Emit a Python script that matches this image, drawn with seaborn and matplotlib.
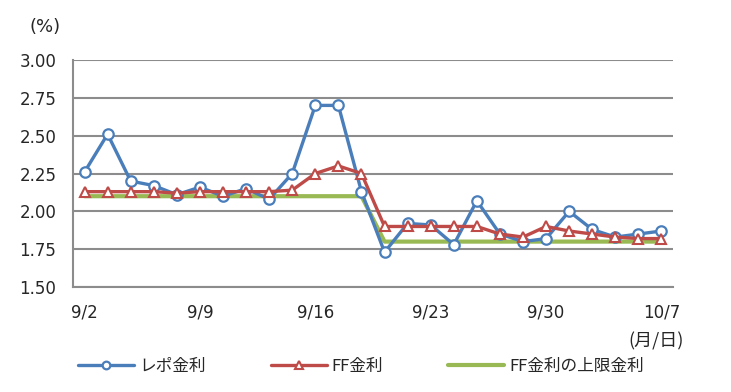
import numpy as np
import pandas as pd
import matplotlib.pyplot as plt
import seaborn as sns

# business days 9/2 .. 10/7
dates = ["9/2", "9/3", "9/4", "9/5", "9/6",
         "9/9", "9/10", "9/11", "9/12", "9/13",
         "9/16", "9/17", "9/18", "9/19", "9/20",
         "9/23", "9/24", "9/25", "9/26", "9/27",
         "9/30", "10/1", "10/2", "10/3", "10/4",
         "10/7"]
repo = [2.26, 2.51, 2.20, 2.17, 2.11,
        2.16, 2.10, 2.15, 2.08, 2.25,
        2.70, 2.70, 2.13, 1.73, 1.92,
        1.91, 1.78, 2.07, 1.85, 1.80,
        1.82, 2.00, 1.88, 1.83, 1.85,
        1.87]
ff = [2.13, 2.13, 2.13, 2.13, 2.12,
      2.13, 2.13, 2.13, 2.13, 2.14,
      2.25, 2.30, 2.25, 1.90, 1.90,
      1.90, 1.90, 1.90, 1.85, 1.83,
      1.90, 1.87, 1.85, 1.83, 1.82,
      1.82]
ff_upper = [2.10] * 13 + [1.80] * 13
tick_labels = ["9/2", "9/9", "9/16", "9/23", "9/30", "10/7"]

labels = ["レポ金利", "FF金利", "FF金利の上限金利"]
colors = ["#4a7ebb", "#be4b48", "#98b954"]

sns.set_style("white")
plt.rcParams['font.family'] = ['DejaVu Sans', 'Noto Sans CJK JP']

df = pd.DataFrame({"idx": np.arange(len(dates)), "date": dates,
                   "repo": repo, "ff": ff, "upper": ff_upper})

fig = plt.figure(figsize=(7.31, 3.92), dpi=100)
ax = fig.add_axes([73 / 731, 1 - 287 / 392, 600 / 731, 227 / 392])

sns.lineplot(data=df, x="idx", y="repo", ax=ax, color=colors[0], lw=2.4,
             marker="o", markersize=7.5, markerfacecolor="white",
             markeredgecolor=colors[0], markeredgewidth=1.6, label=labels[0], zorder=3)
sns.lineplot(data=df, x="idx", y="ff", ax=ax, color=colors[1], lw=2.4,
             marker="^", markersize=7, markerfacecolor="white",
             markeredgecolor=colors[1], markeredgewidth=1.5, label=labels[1], zorder=4)
sns.lineplot(data=df, x="idx", y="upper", ax=ax, color=colors[2], lw=3.0,
             label=labels[2], zorder=2)

ax.set_xlim(-0.5, len(dates) - 0.5)
ax.set_ylim(1.5, 3.0)
ax.set_yticks(np.arange(1.5, 3.01, 0.25))
ax.set_yticklabels([f"{v:.2f}" for v in np.arange(1.5, 3.01, 0.25)], fontsize=12)
major = [dates.index(t) for t in tick_labels]
ax.set_xticks(major)
ax.set_xticklabels(tick_labels, fontsize=12)
ax.set_xticks(np.arange(-0.5, len(dates), 1.0), minor=True)
ax.tick_params(axis="x", which="major", length=0, pad=12)
ax.tick_params(axis="x", which="minor", length=5, width=1.2, color="#888888", direction="out")
ax.tick_params(axis="y", length=0, pad=12)
ax.set_xlabel("")
ax.set_ylabel("")

ax.yaxis.grid(True, color="#8c8c8c", lw=1.5)
ax.xaxis.grid(False)
for s in ["top", "right"]:
    ax.spines[s].set_visible(False)
for s in ["left", "bottom"]:
    ax.spines[s].set_color("#8c8c8c")
    ax.spines[s].set_linewidth(1.5)

fig.text(45 / 731, 1 - 27 / 392, "(%)", fontsize=13, ha="center", va="center")
fig.text(684 / 731, 1 - 341 / 392, "(月/日)", fontsize=13, ha="right", va="center",
         family=['Noto Sans CJK JP', 'DejaVu Sans'])

handles, _ = ax.get_legend_handles_labels()
ax.legend_.remove()
leg = fig.legend(handles, labels, loc="center", bbox_to_anchor=(361 / 731, 1 - 366 / 392),
                 ncol=3, frameon=False, handlelength=3.35, columnspacing=3.9,
                 handletextpad=0.3, prop={"family": ['Noto Sans CJK JP', 'DejaVu Sans'], "size": 12})
for h in leg.legend_handles[:2]:
    h.set_markersize(5.5)

fig.savefig("out.png", dpi=100)
